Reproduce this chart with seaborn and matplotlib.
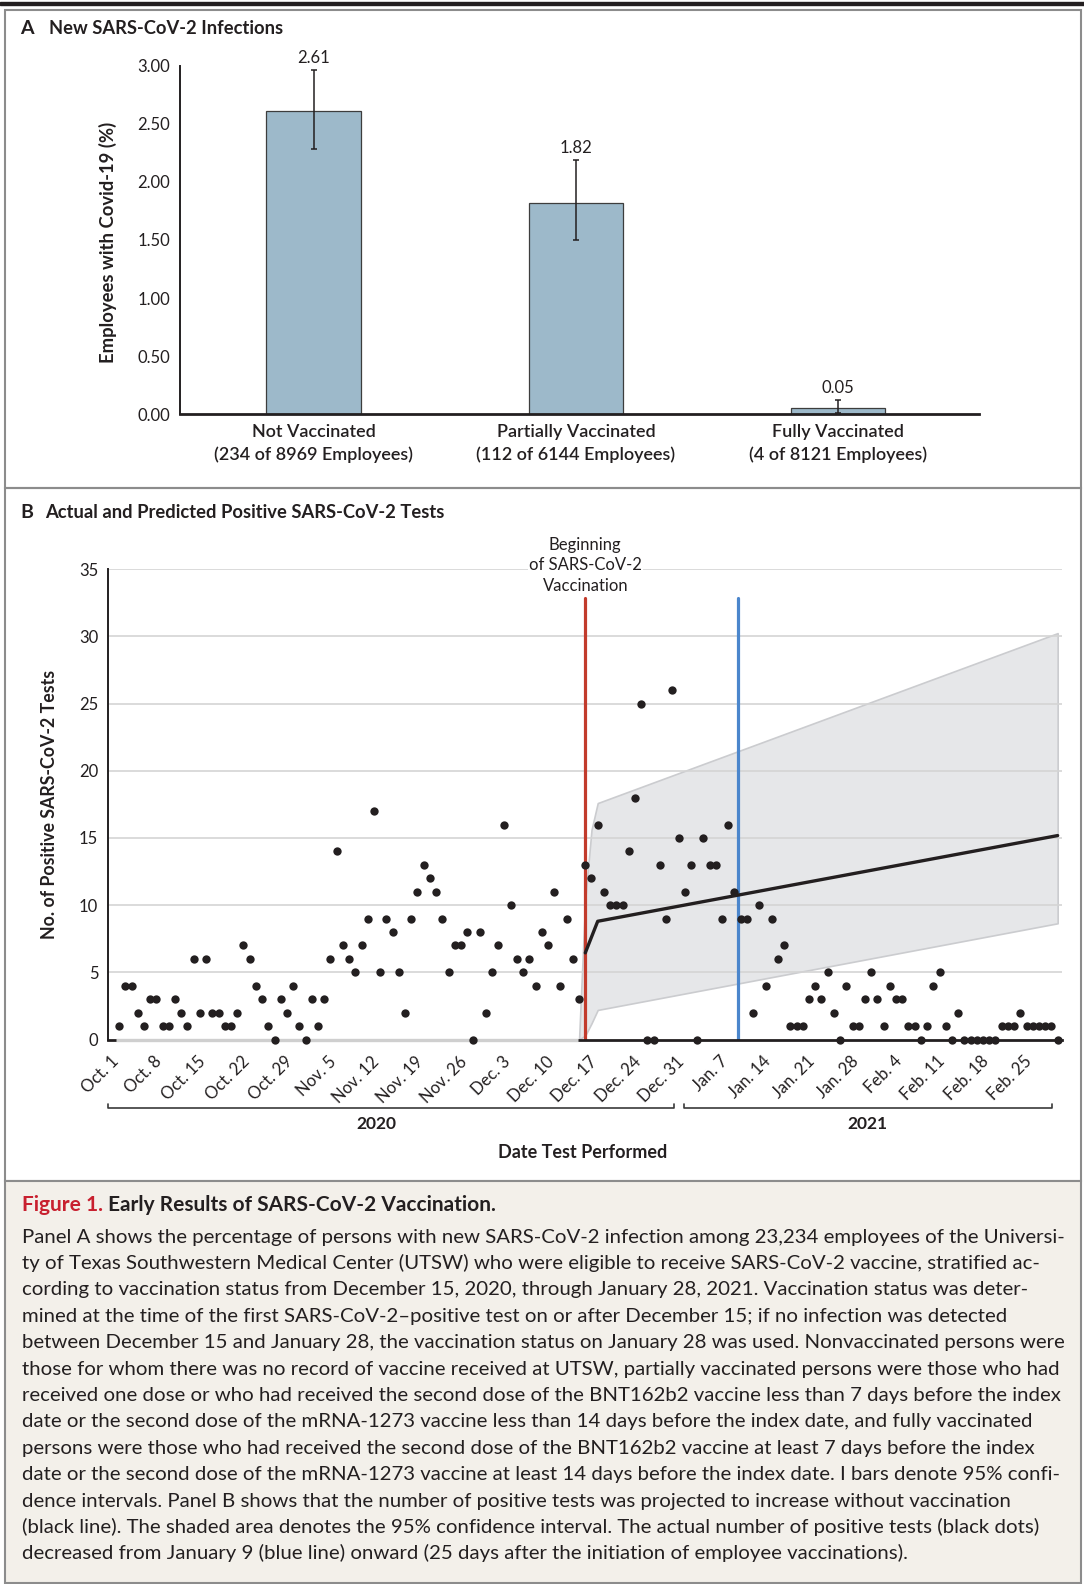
import numpy as np
import pandas as pd
import matplotlib.pyplot as plt
import seaborn as sns
from matplotlib.patches import Rectangle

# Panel A: share of employees with new infection, by vaccination status
groups = ['Not Vaccinated\n(234 of 8969 Employees)',
          'Partially Vaccinated\n(112 of 6144 Employees)',
          'Fully Vaccinated\n(4 of 8121 Employees)']
pct_covid = [2.61, 1.82, 0.05]
ci_low = [2.28, 1.50, 0.01]
ci_high = [2.96, 2.19, 0.12]

# Panel B: positive tests per day, starting Oct 1, 2020
first_day = '2020-10-01'
positives = [1, 4, 4, 2, 1, 3, 3, 1, 1, 3, 2, 1, 6, 2, 6, 2, 2, 1, 1, 2,
             7, 6, 4, 3, 1, 0, 3, 2, 4, 1, 0, 3, 1, 3, 6, 14, 7, 6, 5, 7,
             9, 17, 5, 9, 8, 5, 2, 9, 11, 13, 12, 11, 9, 5, 7, 7, 8, 0, 8, 2,
             5, 7, 16, 10, 6, 5, 6, 4, 8, 7, 11, 4, 9, 6, 3, 13, 12, 16, 11, 10,
             10, 10, 14, 18, 25, 0, 0, 13, 9, 26, 15, 11, 13, 0, 15, 13, 13, 9, 16, 11,
             9, 9, 2, 10, 4, 9, 6, 7, 1, 1, 1, 3, 4, 3, 5, 2, 0, 4, 1, 1,
             3, 5, 3, 1, 4, 3, 3, 1, 1, 0, 1, 4, 5, 1, 0, 2, 0, 0, 0, 0,
             0, 0, 1, 1, 1, 2, 1, 1, 1, 1, 1, 0]
tick_labels = ['Oct. 1', 'Oct. 8', 'Oct. 15', 'Oct. 22', 'Oct. 29', 'Nov. 5',
               'Nov. 12', 'Nov. 19', 'Nov. 26', 'Dec. 3', 'Dec. 10', 'Dec. 17',
               'Dec. 24', 'Dec. 31', 'Jan. 7', 'Jan. 14', 'Jan. 21', 'Jan. 28',
               'Feb. 4', 'Feb. 11', 'Feb. 18', 'Feb. 25']
pred_dates = ['2020-12-15', '2020-12-17', '2021-03-01']
pred_tests = [6.45, 8.8, 15.18]
band_dates = ['2020-12-14', '2020-12-15', '2020-12-16', '2020-12-17', '2021-03-01']
band_low = [0, 0.3, 1.2, 2.2, 8.65]
band_high = [0, 10.5, 15.6, 17.6, 30.25]
vacc_start = '2020-12-15'
decline_start = '2021-01-09'

caption_lines = [
    'Panel A shows the percentage of persons with new SARS-CoV-2 infection among 23,234 employees of the Universi-',
    'ty of Texas Southwestern Medical Center (UTSW) who were eligible to receive SARS-CoV-2 vaccine, stratified ac-',
    'cording to vaccination status from December 15, 2020, through January 28, 2021. Vaccination status was deter-',
    'mined at the time of the first SARS-CoV-2\u2013positive test on or after December 15; if no infection was detected',
    'between December 15 and January 28, the vaccination status on January 28 was used. Nonvaccinated persons were',
    'those for whom there was no record of vaccine received at UTSW, partially vaccinated persons were those who had',
    'received one dose or who had received the second dose of the BNT162b2 vaccine less than 7 days before the index',
    'date or the second dose of the mRNA-1273 vaccine less than 14 days before the index date, and fully vaccinated',
    'persons were those who had received the second dose of the BNT162b2 vaccine at least 7 days before the index',
    'date or the second dose of the mRNA-1273 vaccine at least 14 days before the index date. I bars denote 95% confi-',
    'dence intervals. Panel B shows that the number of positive tests was projected to increase without vaccination',
    '(black line). The shaded area denotes the 95% confidence interval. The actual number of positive tests (black dots)',
    'decreased from January 9 (blue line) onward (25 days after the initiation of employee vaccinations).',
]

sns.set_style('white')
plt.rcParams['font.family'] = ['Lato', 'DejaVu Sans']
ink = '#231f20'

t0 = pd.Timestamp(first_day)
def day_of(dates):
    return np.asarray((pd.to_datetime(dates) - t0).days, dtype=float)

W, H = 1084, 1584
fig = plt.figure(figsize=(W / 100, H / 100), dpi=100)

# pixel-space overlay for frames and free text
bg = fig.add_axes([0, 0, 1, 1])
bg.set_xlim(0, W)
bg.set_ylim(H, 0)
bg.axis('off')
bg.add_patch(Rectangle((0, 2), W, 3, color=ink))
bg.add_patch(Rectangle((5, 10), 1076, 478, fill=False, ec='#8c8c8c', lw=1.5))
bg.add_patch(Rectangle((5, 488), 1076, 693, fill=False, ec='#8c8c8c', lw=1.5))
bg.add_patch(Rectangle((5, 1181), 1076, 402, fc='#f3f0ea', ec='#8c8c8c', lw=1.5))

bg.text(20, 29, 'A', fontsize=14, fontweight='bold', color=ink, va='center')
bg.text(49, 29, 'New SARS-CoV-2 Infections', fontsize=13.2, fontweight='bold', color=ink, va='center')
bg.text(20, 513, 'B', fontsize=14, fontweight='bold', color=ink, va='center')
bg.text(45, 513, 'Actual and Predicted Positive SARS-CoV-2 Tests', fontsize=13.2,
        fontweight='bold', color=ink, va='center')
bg.text(108, 242, 'Employees with Covid-19 (%)', rotation=90, fontsize=13.3,
        fontweight='bold', color=ink, ha='center', va='center')
bg.text(50, 804, 'No. of Positive SARS-CoV-2 Tests', rotation=90, fontsize=12.8,
        fontweight='bold', color=ink, ha='center', va='center')

# year brackets under the date axis
bg.plot([108, 108, 674, 674], [1104, 1108, 1108, 1104], color='#3a3a3a', lw=1.2)
bg.plot([684, 684, 1052, 1052], [1104, 1108, 1108, 1104], color='#3a3a3a', lw=1.2)
bg.text(376, 1124, '2020', fontsize=12.5, fontweight='bold', color=ink, ha='center', va='center')
bg.text(867, 1124, '2021', fontsize=12.5, fontweight='bold', color=ink, ha='center', va='center')
bg.text(583, 1152, 'Date Test Performed', fontsize=13, fontweight='bold', color=ink,
        ha='center', va='center')

# caption
t1 = bg.text(22, 1211, 'Figure 1.', fontsize=15, fontweight='bold', color='#c8202f', va='baseline')
bg.annotate(' Early Results of SARS-CoV-2 Vaccination.', xy=(1, 0), xycoords=t1,
            fontsize=15, fontweight='bold', color=ink, va='bottom')
for i, line in enumerate(caption_lines):
    bg.text(22, 1242.5 + 26.4 * i, line, fontsize=14.7, color=ink, va='baseline')

# ---- Panel A ----
axA = fig.add_axes([180 / W, 1 - 414.2 / H, 799 / W, 348.5 / H])
sns.barplot(x=groups, y=pct_covid, ax=axA, color='#9db9ca', saturation=1, width=0.362,
            edgecolor='#3d3d3d', linewidth=0.9, errorbar=None)
err = [np.subtract(pct_covid, ci_low), np.subtract(ci_high, pct_covid)]
axA.errorbar(range(len(groups)), pct_covid, yerr=err, fmt='none', ecolor=ink,
             elinewidth=1.1, capsize=2, capthick=1.1)
for i, v in enumerate(pct_covid):
    axA.annotate(f'{v:.2f}', (i, ci_high[i]), xytext=(0, 3), textcoords='offset points',
                 ha='center', va='bottom', fontsize=12, color=ink)
axA.set_xlim(-0.511, 2.538)
axA.set_ylim(0, 3)
yt = np.arange(0, 3.01, 0.5)
axA.set_yticks(yt, [f'{v:.2f}' for v in yt])
sns.despine(ax=axA)
axA.spines['left'].set_linewidth(1.4)
axA.spines['bottom'].set_linewidth(2)
axA.spines['left'].set_color(ink)
axA.spines['bottom'].set_color(ink)
axA.tick_params(axis='y', direction='out', length=6, width=1.3, labelsize=12, pad=1, colors=ink)
axA.tick_params(axis='x', length=0, labelsize=13, pad=7, colors=ink)
for lbl in axA.get_xticklabels():
    lbl.set_linespacing(1.45)
    lbl.set_fontweight('semibold')
axA.set_xlabel('')
axA.set_ylabel('')

# ---- Panel B ----
axB = fig.add_axes([108 / W, 1 - 1039.5 / H, 954 / W, 470.2 / H])
axB.set_xlim(-1.29, 152.2)
axB.set_ylim(0, 35)
for y in range(5, 36, 5):
    axB.axhline(y, color='#d4d4d4', lw=1.2, zorder=1.5)

band_x = day_of(band_dates) + 0.5
axB.fill_between(band_x, band_low, band_high, facecolor='#e6e7e9', edgecolor='#cbcccf',
                 lw=1.2, zorder=1)

red_x = day_of([vacc_start])[0] + 0.5
blue_x = day_of([decline_start])[0]
axB.plot([red_x, red_x], [0, 32.9], color='#c23b2c', lw=2.3, zorder=2)
axB.plot([blue_x, blue_x], [0, 32.9], color='#4b86cc', lw=2.3, zorder=2)

sns.lineplot(x=day_of(pred_dates) + 0.5, y=pred_tests, ax=axB, color=ink, lw=2.4, zorder=2.5)

# pre-vaccination part of the baseline is drawn light gray
axB.plot([0, band_x[0] - 0.1], [0, 0], color='#cfcfcf', lw=2.4, zorder=2.6,
         clip_on=False, solid_capstyle='butt')

dot_x = np.arange(len(positives)) + 0.5
sns.scatterplot(x=dot_x, y=positives, ax=axB, color=ink, s=36, linewidth=0,
                zorder=3, clip_on=False)

axB.annotate('Beginning\nof SARS-CoV-2\nVaccination', xy=(red_x, 35), xytext=(0, 3),
             textcoords='offset points', ha='center', va='center', fontsize=12,
             linespacing=1.35, color=ink, annotation_clip=False, zorder=4,
             bbox=dict(fc='white', ec='none', pad=1))

sns.despine(ax=axB)
axB.spines['left'].set_linewidth(1.4)
axB.spines['bottom'].set_linewidth(2)
axB.spines['left'].set_color(ink)
axB.spines['bottom'].set_color(ink)
axB.set_yticks(range(0, 36, 5))
tick_x = np.arange(len(tick_labels)) * 7
axB.set_xticks(tick_x, tick_labels, rotation=45, ha='right', va='center',
               rotation_mode='anchor')
axB.tick_params(axis='y', direction='out', length=6, width=1.3, labelsize=12, pad=1, colors=ink)
axB.tick_params(axis='x', direction='out', length=5, width=1.3, labelsize=12, pad=9, colors=ink)
axB.set_xlabel('')
axB.set_ylabel('')

fig.savefig('out.png', dpi=100, facecolor='white')
